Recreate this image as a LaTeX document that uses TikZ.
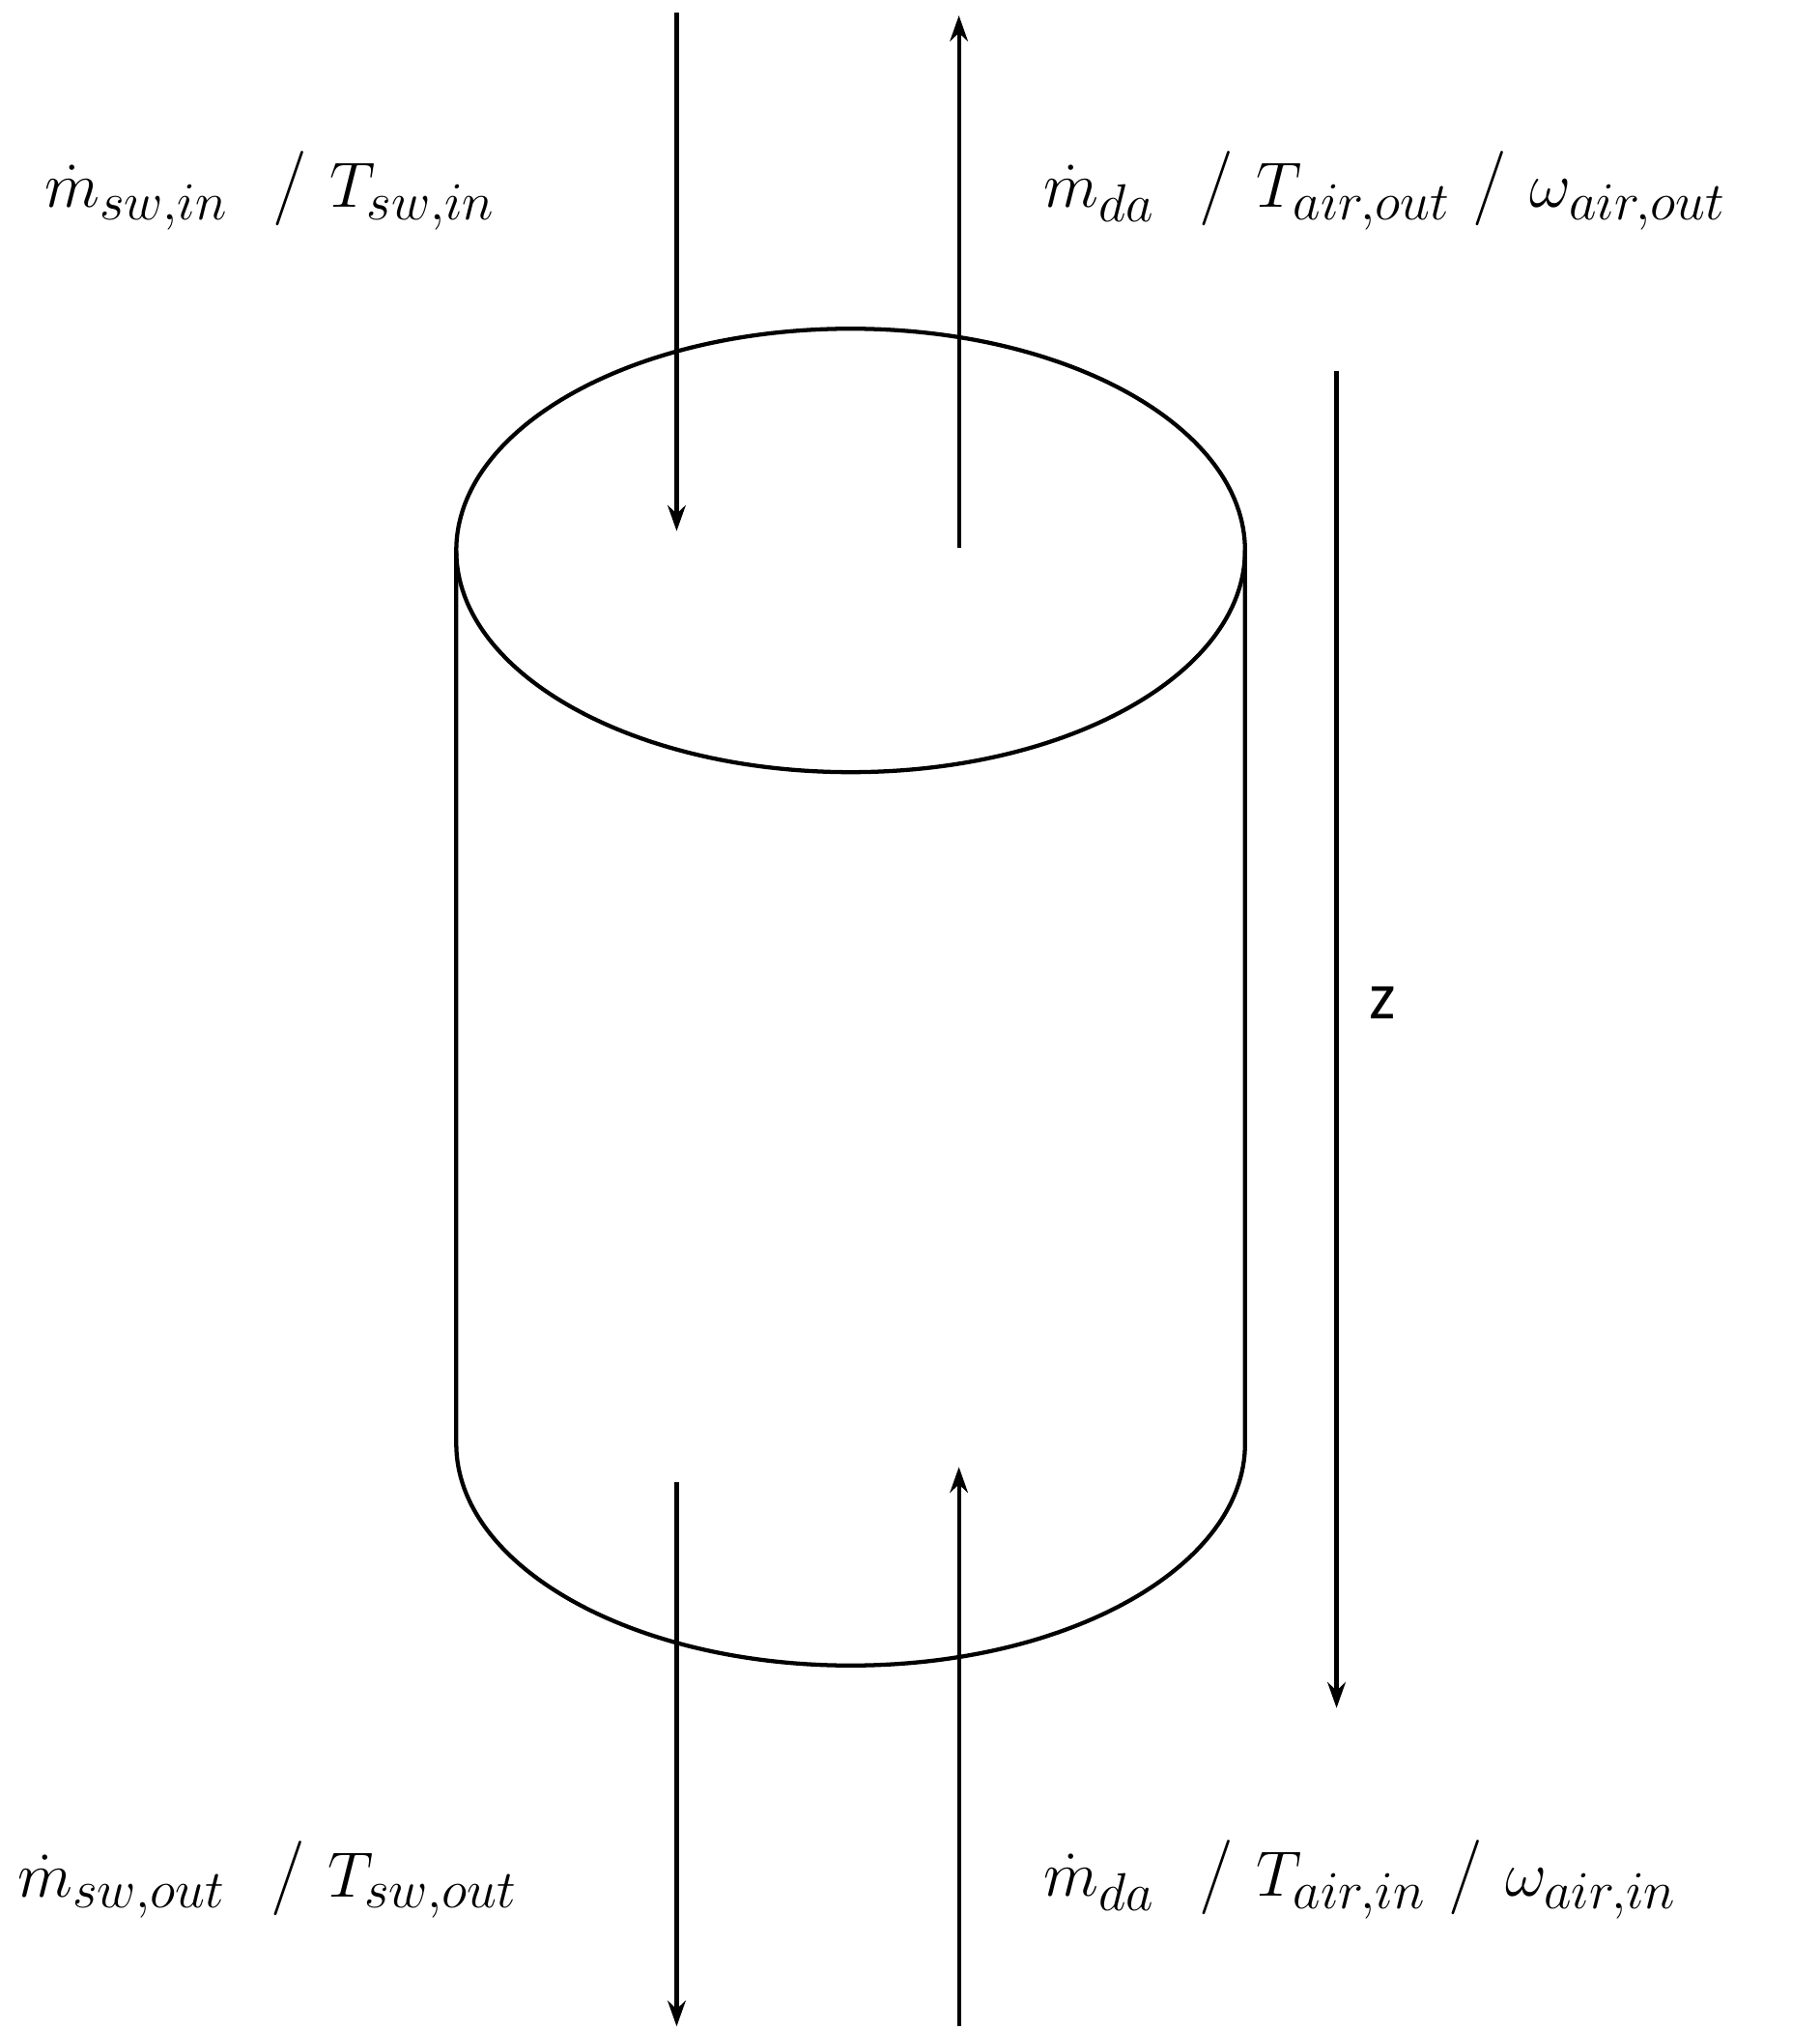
\documentclass[tikz,border=0pt]{standalone}
\usepackage{fontspec}
\newfontfamily\zfont{Carlito}
\usetikzlibrary{arrows.meta}
\begin{document}
\begin{tikzpicture}[x=0.5pt,y=-0.5pt,line width=1.6pt,
  flow/.style={-{Stealth[length=10pt,width=7pt]}},
  lbl/.style={font=\fontsize{29}{33}\selectfont}]
\useasboundingbox (0,0) rectangle (1412,1574);
% cylinder
\draw (660,427) ellipse [x radius=306, y radius=-172];
\draw (354,427) -- (354,1120) arc[start angle=180,end angle=360,x radius=306,y radius=-172] -- (966,427);
% arrows
\coordinate (a1) at (525,10); \coordinate (a2) at (525,412);
\coordinate (b1) at (744,425); \coordinate (b2) at (744,12);
\coordinate (c1) at (525,1150); \coordinate (c2) at (525,1572);
\coordinate (d1) at (744,1572); \coordinate (d2) at (744,1138);
\coordinate (z1) at (1037,288); \coordinate (z2) at (1037,1325);
\draw[flow] (a1) -- (a2);
\draw[flow] (b1) -- (b2);
\draw[flow] (c1) -- (c2);
\draw[flow] (d1) -- (d2);
\draw[flow] (z1) -- (z2);
\node[font=\zfont\fontsize{26}{30}\selectfont] (z) at (1073,778) {z};
\node[lbl,anchor=west,inner sep=0pt] (l1) at (33,148) {$\dot{m}_{sw,in}$\ \ /\ $T_{sw,in}$};
\node[lbl,anchor=west,inner sep=0pt] (l2) at (808,148) {$\dot{m}_{da}$\ \ /\ $T_{air,out}$\ /\ $\omega_{air,out}$};
\node[lbl,anchor=west,inner sep=0pt] (l3) at (12,1458) {$\dot{m}_{sw,out}$\ \ /\ $T_{sw,out}$};
\node[lbl,anchor=west,inner sep=0pt] (l4) at (808,1458) {$\dot{m}_{da}$\ \ /\ $T_{air,in}$\ /\ $\omega_{air,in}$};
\end{tikzpicture}
\end{document}
